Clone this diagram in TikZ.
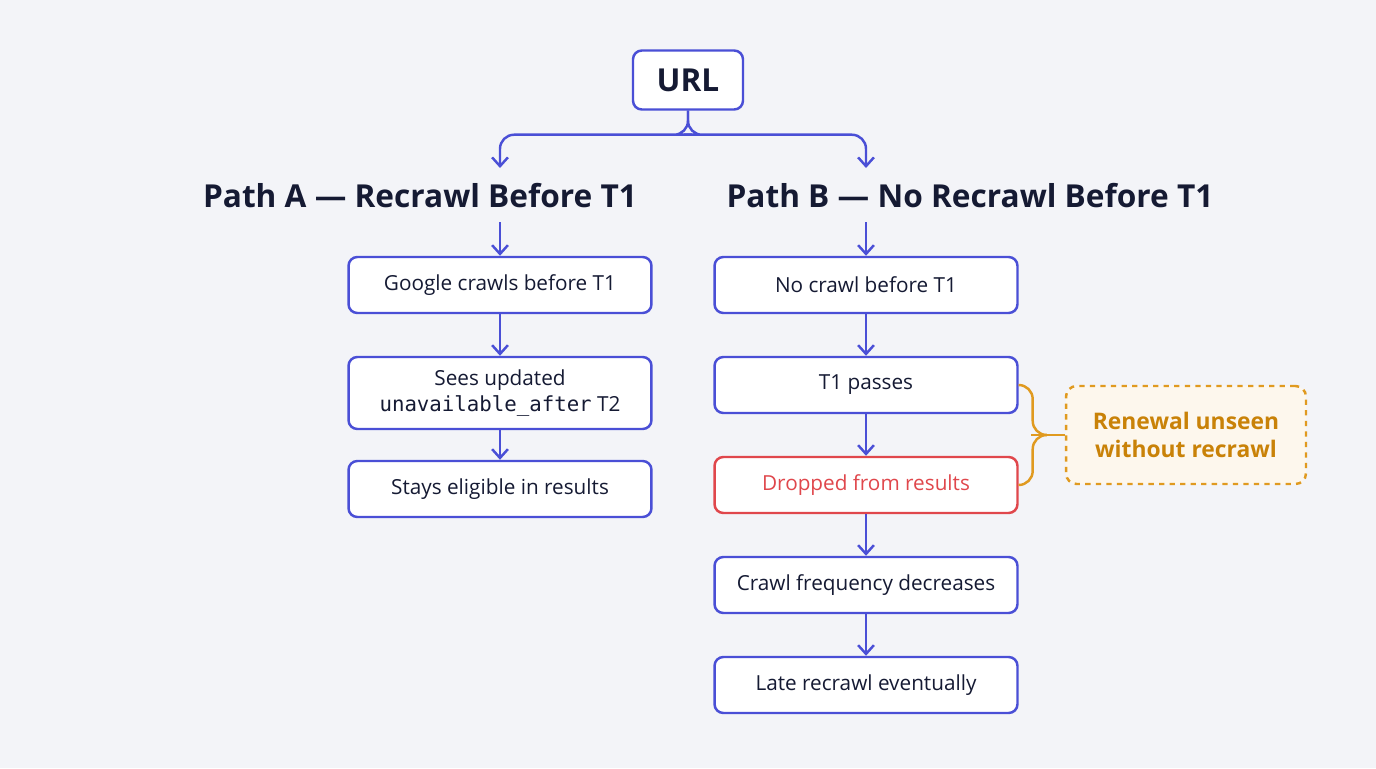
\documentclass[tikz,border=0pt]{standalone}
\usepackage{fontspec}
\setmainfont{Open Sans}
\setmonofont{DejaVu Sans Mono}
\usetikzlibrary{positioning, arrows.meta}

\definecolor{bgc}{HTML}{F3F4F8}
\definecolor{blu}{HTML}{4A4FD6}
\definecolor{redc}{HTML}{E0474C}
\definecolor{orn}{HTML}{E09A20}
\definecolor{ortx}{HTML}{C98208}
\definecolor{ink}{HTML}{151A33}

\tikzset{
	stage/.style = {draw = blu, line width = 1.4pt, rounded corners = 5pt, fill = white,
		minimum width = 6.06cm, minimum height = 1.12cm, align = center,
		font = \fontsize{11.8}{15}\selectfont, text = ink},
	head/.style = {font = \fontsize{18}{22}\selectfont\bfseries, text = ink},
	flow/.style = {draw = blu, line width = 1.4pt, -{Straight Barb[length=5pt, width=9pt]}},
}

\begin{document}
\begin{tikzpicture}[x = 0.02cm, y = -0.02cm]
	\fill [bgc] (0,0) rectangle (1376,768);

	% top
	\node [stage, minimum width = 2.2cm, minimum height = 1.18cm, font = \fontsize{18}{22}\selectfont\bfseries] (url) at (688,80) {URL};
	\node [head] (pa) at (420,196) {Path A — Recrawl Before T1};
	\node [head] (pb) at (970,196) {Path B — No Recrawl Before T1};
	\coordinate (split) at (688,133);
	\coordinate (ta) at (500,165);
	\coordinate (tb) at (866,165);

	% path A
	\node [stage] (a1) at (500,285) {Google crawls before T1};
	\node [stage, minimum height = 1.44cm] (a2) at (500,393) {Sees updated\\\texttt{unavailable\_after} T2};
	\node [stage] (a3) at (500,489) {Stays eligible in results};

	% path B
	\node [stage] (b1) at (866,285) {No crawl before T1};
	\node [stage] (b2) at (866,385) {T1 passes};
	\node [stage, draw = redc, text = redc] (b3) at (866,485) {Dropped from results};
	\node [stage] (b4) at (866,585) {Crawl frequency decreases};
	\node [stage] (b5) at (866,685) {Late recrawl eventually};

	% note
	\node [draw = orn, dashed, line width = 1.4pt, rounded corners = 6pt, fill = orn!8,
		minimum width = 4.8cm, minimum height = 1.96cm, align = center, text = ortx,
		font = \fontsize{13}{16}\selectfont\bfseries] (note) at (1186,435) {Renewal unseen\\without recrawl};

	% connectors
	\draw [blu, line width = 1.4pt, rounded corners = 8pt] (url.south) |- ++(-10,24) -| (ta);
	\draw [blu, line width = 1.4pt, rounded corners = 8pt] (url.south) |- ++(10,24) -| (tb);
	\draw [flow] (ta) -- ++(0,3);
	\draw [flow] (tb) -- ++(0,3);
	\draw [flow] (500,222) -- (a1.north);
	\draw [flow] (866,222) -- (b1.north);
	\draw [flow] (a1) -- (a2);
	\draw [flow] (a2) -- (a3);
	\foreach \u/\v in {b1/b2, b2/b3, b3/b4, b4/b5}
		\draw [flow] (\u) -- (\v);

	\draw [orn, line width = 1.4pt, rounded corners = 8pt] (b2.east) -- ++(14,0) -- ++(0,50) -- ++(8,0);
	\draw [orn, line width = 1.4pt, rounded corners = 8pt] (b3.east) -- ++(14,0) -- ++(0,-50) -- ++(8,0);
	\draw [orn, line width = 1.4pt] (1031,435) -- (note.west);
\end{tikzpicture}
\end{document}
